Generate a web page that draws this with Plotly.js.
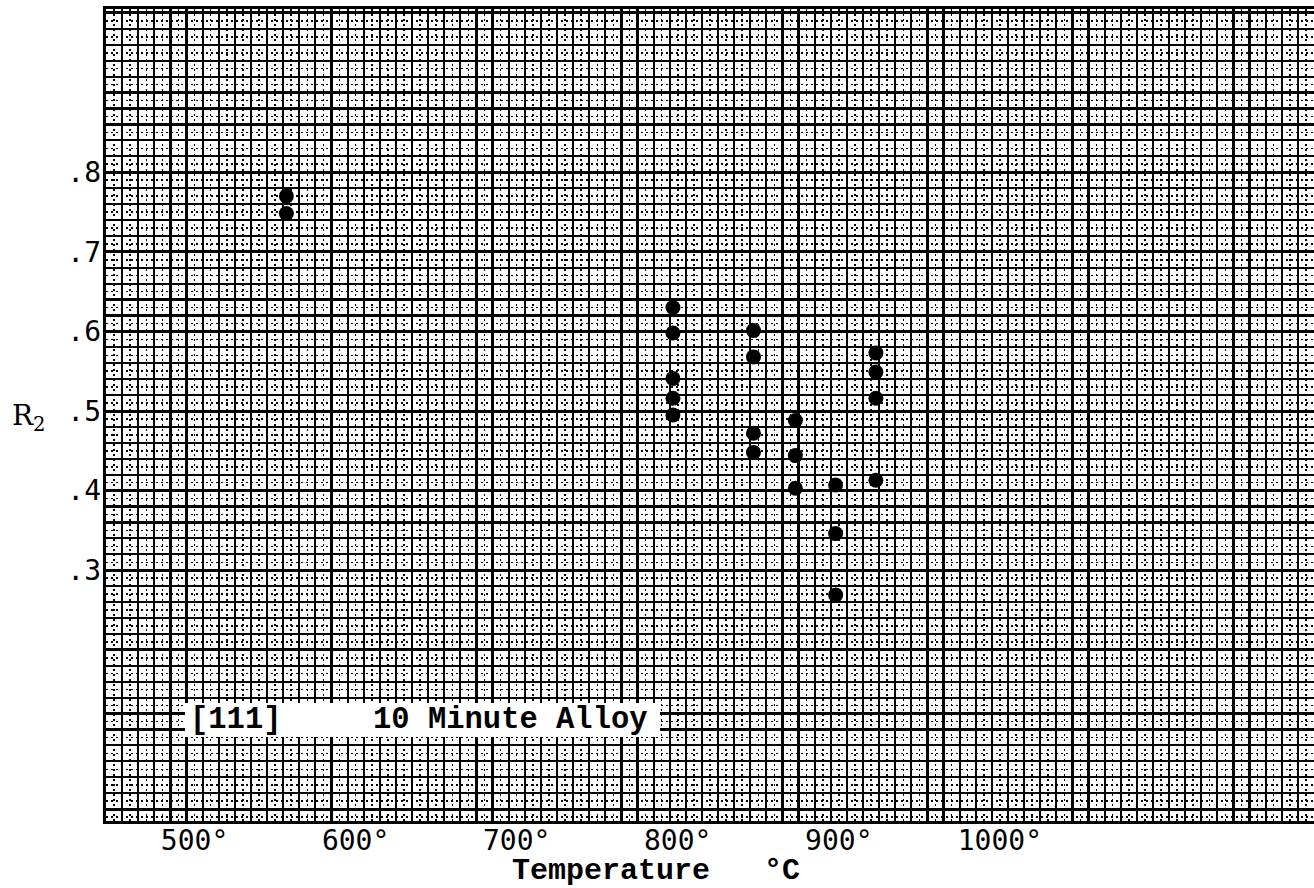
<!DOCTYPE html>
<html>
<head>
<meta charset="utf-8">
<script src="https://cdn.plot.ly/plotly-3.0.1.min.js"></script>
<style>html,body{margin:0;padding:0;background:#fff;}#chart{width:1314px;height:888px;}</style>
</head>
<body>
<div id="chart"></div>
<script>
// Data
const temperature = [562, 562, 802, 802, 802, 802, 802, 852, 852, 852, 852, 878, 878, 878, 903, 903, 903, 928, 928, 928, 928];
const r2 = [0.770, 0.748, 0.630, 0.598, 0.541, 0.516, 0.495, 0.601, 0.568, 0.472, 0.448, 0.488, 0.444, 0.403, 0.407, 0.346, 0.269, 0.573, 0.549, 0.516, 0.413];

const xTickVals = [500, 600, 700, 800, 900, 1000];
const xTickText = ['500°', '600°', '700°', '800°', '900°', '1000°'];
const yTickVals = [0.3, 0.4, 0.5, 0.6, 0.7, 0.8];
const yTickText = ['.3', '.4', '.5', '.6', '.7', '.8'];

const xRange = [450, 1200];
const yRange = [-0.015, 1.005];

const NBSP = '\u00A0';
const boxLabel = '[111]' + NBSP.repeat(5) + '10' + NBSP + 'Minute' + NBSP + 'Alloy';
const xTitle = 'Temperature' + NBSP.repeat(3) + '°C';

const monoFont = '"Liberation Mono", monospace';
const monoSans = '"DejaVu Sans Mono", monospace';

const traces = [
  {x: temperature, y: r2, type: 'scatter', mode: 'markers', xaxis: 'x', yaxis: 'y',
   marker: {color: '#000', size: 15, symbol: 'circle'}, hoverinfo: 'skip', showlegend: false},
  {x: [null], y: [null], type: 'scatter', mode: 'markers', xaxis: 'x2', yaxis: 'y2', hoverinfo: 'skip', showlegend: false},
  {x: [null], y: [null], type: 'scatter', mode: 'markers', xaxis: 'x', yaxis: 'y3', hoverinfo: 'skip', showlegend: false}
];

const layout = {
  width: 1314, height: 888,
  margin: {l: 106, r: 0, t: 9, b: 67},
  paper_bgcolor: '#fff', plot_bgcolor: '#fff',
  showlegend: false, hovermode: false,
  xaxis: {
    range: xRange, tickmode: 'linear', tick0: 450, dtick: 10,
    showticklabels: false, ticks: '', zeroline: false,
    showgrid: true, gridcolor: '#000', gridwidth: 2.2,
    minor: {tickmode: 'linear', tick0: 455, dtick: 10, showgrid: true, gridcolor: '#000', gridwidth: 1.5, griddash: '2px,3px', ticks: ''},
    showline: true, linecolor: '#000', linewidth: 3, mirror: true
  },
  yaxis: {
    range: yRange, tickmode: 'linear', tick0: 0, dtick: 0.02,
    showticklabels: false, ticks: '', zeroline: false,
    showgrid: true, gridcolor: '#000', gridwidth: 2.2,
    minor: {tickmode: 'linear', tick0: 0.01, dtick: 0.02, showgrid: true, gridcolor: '#000', gridwidth: 1.5, griddash: '2px,3px', ticks: ''},
    showline: true, linecolor: '#000', linewidth: 3, mirror: true
  },
  xaxis2: {
    overlaying: 'x', anchor: 'y2', side: 'bottom', range: xRange,
    tickmode: 'array', tickvals: xTickVals, ticktext: xTickText,
    tickfont: {family: monoSans, size: 28, color: '#000'},
    ticklabelshift: 8, ticks: '', showgrid: false, zeroline: false, showline: false
  },
  yaxis2: {
    overlaying: 'y', anchor: 'x2', side: 'left', range: yRange,
    tickmode: 'array', tickvals: yTickVals, ticktext: yTickText,
    tickfont: {family: monoSans, size: 28, color: '#000'},
    ticks: '', showgrid: false, zeroline: false, showline: false, ticklabelstandoff: 4
  },
  yaxis3: {
    overlaying: 'y', anchor: 'x', side: 'left', range: yRange,
    tickmode: 'linear', tick0: 0, dtick: 0.1, showticklabels: false, ticks: '',
    showgrid: true, gridcolor: '#000', gridwidth: 3, zeroline: false, showline: false
  },
  shapes: [
    {type: 'rect', xref: 'paper', yref: 'paper', x0: 0.0654, x1: 0.4586, y0: 0.1034, y1: 0.1453,
     fillcolor: '#fff', line: {width: 0}, layer: 'above'}
  ],
  annotations: [
    {xref: 'paper', yref: 'paper', x: 0.0679, y: 0.1244, xanchor: 'left', yanchor: 'middle',
     text: boxLabel, showarrow: false,
     font: {family: monoFont, size: 30.5, color: '#000', weight: 'bold'}},
    {xref: 'paper', yref: 'paper', x: -0.0795, y: 0.497, xanchor: 'left', yanchor: 'middle',
     text: 'R<sub>2</sub>', showarrow: false,
     font: {family: '"DejaVu Serif", serif', size: 28, color: '#000'}},
    {xref: 'paper', yref: 'paper', x: 0.3344, y: -0.0616, xanchor: 'left', yanchor: 'middle',
     text: xTitle, showarrow: false,
     font: {family: monoFont, size: 30, color: '#000', weight: 'bold'}}
  ]
};

Plotly.newPlot('chart', traces, layout, {displayModeBar: false, staticPlot: true});
</script>
</body>
</html>
